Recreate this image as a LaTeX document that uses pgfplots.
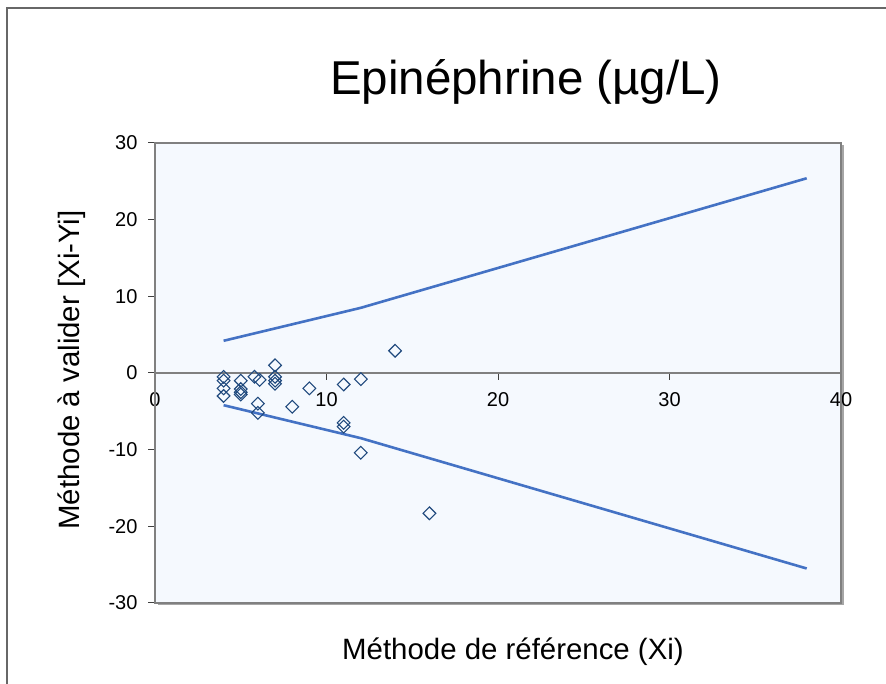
\documentclass[border=0pt]{standalone}
\usepackage{pgfplots}
\pgfplotsset{compat=1.18}
\usepackage{fontspec}
\setmainfont{Liberation Sans}
\definecolor{bgblue}{RGB}{245,249,254}
\definecolor{linblue}{RGB}{68,114,196}
\definecolor{mkblue}{RGB}{31,73,125}
\definecolor{framegray}{RGB}{128,128,128}
\begin{document}
\begin{tikzpicture}[x=1bp,y=1bp]
\useasboundingbox (0,0) rectangle (886,684);
\fill[white] (0,0) rectangle (886,684);
\draw[framegray!80!black, line width=1.2bp] (7,-5) -- (7,676) -- (895,676);
\fill[black!35] (157.5,78.5) rectangle (843.5,538.5);
\begin{axis}[
  at={(155bp,81bp)}, anchor=south west,
  width=686bp, height=460bp, scale only axis,
  xmin=0, xmax=40, ymin=-30, ymax=30,
  axis x line=middle, axis y line=left,
  axis line style={-},
  x axis line style={framegray, line width=1.3bp},
  y axis line style={black!75, line width=1.5bp},
  hide obscured x ticks=false, hide obscured y ticks=false,
  xtick={0,10,20,30,40}, ytick={-30,-20,-10,0,10,20,30},
  tick align=outside, major tick length=7bp,
  tick style={black!75, line width=1bp},
  tick label style={font=\fontsize{20bp}{24bp}\selectfont},
  /pgf/number format/assume math mode=true,
  xticklabel style={anchor=north, yshift=-9bp},
  yticklabel style={anchor=east, xshift=-7bp},
  axis background/.style={fill=bgblue},
  clip=false,
]
\addplot[only marks, mark=square, mark size=4.5bp, mkblue, line width=1.1bp, mark options={rotate=45}] coordinates {
(4,-0.5) (4,-1) (4,-2) (4,-3)
(5,-1) (5,-2.1) (5,-2.5) (5,-2.8)
(5.8,-0.5) (6.1,-0.9)
(6,-4) (6,-5.2)
(7,1) (7,-0.5) (7,-1) (7,-1.4)
(8,-4.4) (9,-2) (11,-1.5) (12,-0.8)
(11,-6.5) (11,-7) (12,-10.4) (14,2.9) (16,-18.3)
};
\addplot[linblue, line width=2.6bp] coordinates {
(4,4.2) (12,8.5) (38,25.4)
};
\addplot[linblue, line width=2.6bp] coordinates {
(4,-4.2) (12,-8.5) (38,-25.5)
};
\draw[framegray, line width=1.5bp] (rel axis cs:0,0) rectangle (rel axis cs:1,1);
\end{axis}
\node[anchor=base, font=\fontsize{47.5bp}{57bp}\selectfont] at (526,589) {Epinéphrine (µg/L)};
\node[anchor=base, font=\fontsize{29.4bp}{35bp}\selectfont] at (513,24) {Méthode de référence (Xi)};
\node[anchor=base, rotate=90, font=\fontsize{29.4bp}{35bp}\selectfont] at (79,314) {Méthode à valider [Xi-Yi]};
\end{tikzpicture}
\end{document}
